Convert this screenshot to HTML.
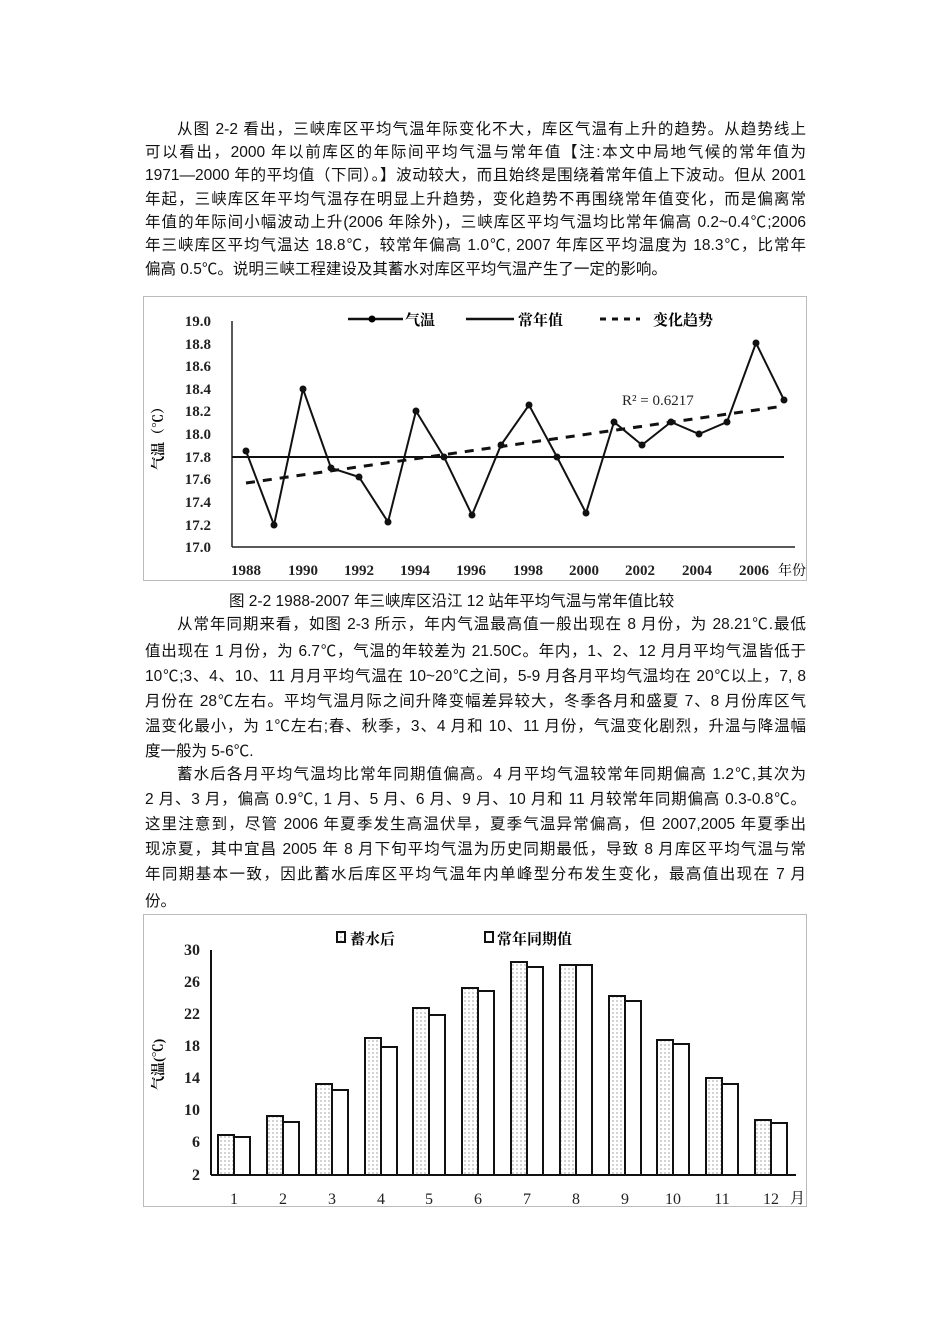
<!DOCTYPE html>
<html><head><meta charset="utf-8"><style>
body{margin:0;background:#fff;}
#pg{position:relative;width:950px;height:1344px;background:#fff;font-family:"Liberation Sans","Noto Sans CJK SC",sans-serif;color:#111;}
.l{position:absolute;left:145px;width:661px;font-size:15.5px;line-height:22px;height:22px;white-space:nowrap;text-align:justify;text-align-last:justify;}
.i{left:177px;width:629px;}
.e{text-align-last:left;}
svg{position:absolute;left:0;top:0;}
svg text{font-family:"Liberation Serif","Noto Serif CJK SC",serif;}
</style></head><body><div id="pg">
<div class="l i" style="top:119px">从图 2-2 看出，三峡库区平均气温年际变化不大，库区气温有上升的趋势。从趋势线上</div>
<div class="l" style="top:142px">可以看出，2000 年以前库区的年际间平均气温与常年值【注:本文中局地气候的常年值为</div>
<div class="l" style="top:165px">1971—2000 年的平均值（下同）。】波动较大，而且始终是围绕着常年值上下波动。但从 2001</div>
<div class="l" style="top:189px">年起，三峡库区年平均气温存在明显上升趋势，变化趋势不再围绕常年值变化，而是偏离常</div>
<div class="l" style="top:212px">年值的年际间小幅波动上升(2006 年除外)，三峡库区平均气温均比常年偏高 0.2~0.4℃;2006</div>
<div class="l" style="top:235px">年三峡库区平均气温达 18.8℃，较常年偏高 1.0℃, 2007 年库区平均温度为 18.3℃，比常年</div>
<div class="l e" style="top:259px">偏高 0.5℃。说明三峡工程建设及其蓄水对库区平均气温产生了一定的影响。</div>

<div class="l e" style="top:591px;left:229px">图 2-2 1988-2007 年三峡库区沿江 12 站年平均气温与常年值比较</div>
<div class="l i" style="top:614px">从常年同期来看，如图 2-3 所示，年内气温最高值一般出现在 8 月份，为 28.21℃.最低</div>
<div class="l" style="top:641px">值出现在 1 月份，为 6.7℃，气温的年较差为 21.50C。年内，1、2、12 月月平均气温皆低于</div>
<div class="l" style="top:666px">10℃;3、4、10、11 月月平均气温在 10~20℃之间，5-9 月各月平均气温均在 20℃以上，7, 8</div>
<div class="l" style="top:691px">月份在 28℃左右。平均气温月际之间升降变幅差异较大，冬季各月和盛夏 7、8 月份库区气</div>
<div class="l" style="top:716px">温变化最小，为 1℃左右;春、秋季，3、4 月和 10、11 月份，气温变化剧烈，升温与降温幅</div>
<div class="l e" style="top:741px">度一般为 5-6℃.</div>
<div class="l i" style="top:764px">蓄水后各月平均气温均比常年同期值偏高。4 月平均气温较常年同期偏高 1.2℃,其次为</div>
<div class="l" style="top:789px">2 月、3 月，偏高 0.9℃, 1 月、5 月、6 月、9 月、10 月和 11 月较常年同期偏高 0.3-0.8℃。</div>
<div class="l" style="top:814px">这里注意到，尽管 2006 年夏季发生高温伏旱，夏季气温异常偏高，但 2007,2005 年夏季出</div>
<div class="l" style="top:839px">现凉夏，其中宜昌 2005 年 8 月下旬平均气温为历史同期最低，导致 8 月库区平均气温与常</div>
<div class="l" style="top:864px">年同期基本一致，因此蓄水后库区平均气温年内单峰型分布发生变化，最高值出现在 7 月</div>
<div class="l e" style="top:891px">份。</div>

<svg width="950" height="1344" xmlns="http://www.w3.org/2000/svg">
<defs><pattern id="dots" width="4" height="4" patternUnits="userSpaceOnUse"><rect width="4" height="4" fill="#fff"/><circle cx="1" cy="1" r="0.6" fill="#666"/></pattern></defs>
<rect x="143.5" y="296.5" width="663" height="284" fill="none" stroke="#bbb"/>
<g font-size="15" font-weight="bold" fill="#222" text-anchor="end">
<text x="211" y="326">19.0</text><text x="211" y="349">18.8</text><text x="211" y="371">18.6</text><text x="211" y="394">18.4</text><text x="211" y="416">18.2</text><text x="211" y="439">18.0</text><text x="211" y="462">17.8</text><text x="211" y="484">17.6</text><text x="211" y="507">17.4</text><text x="211" y="530">17.2</text><text x="211" y="552">17.0</text>
</g>
<text x="0" y="0" font-size="14" font-weight="bold" transform="translate(163,470) rotate(-90)" font-family="Noto Sans CJK SC,sans-serif">气温（℃）</text>
<line x1="232" y1="321" x2="232" y2="547" stroke="#222" stroke-width="1.5"/>
<line x1="232" y1="547" x2="795" y2="547" stroke="#222" stroke-width="1.5"/>
<g font-size="15" font-weight="bold" fill="#222" text-anchor="middle">
<text x="246" y="575">1988</text><text x="303" y="575">1990</text><text x="359" y="575">1992</text><text x="415" y="575">1994</text><text x="471" y="575">1996</text><text x="528" y="575">1998</text><text x="584" y="575">2000</text><text x="640" y="575">2002</text><text x="697" y="575">2004</text><text x="754" y="575">2006</text>
</g>
<text x="778" y="575" font-size="14" font-family="Noto Sans CJK SC,sans-serif">年份</text>
<line x1="232" y1="457" x2="784" y2="457" stroke="#111" stroke-width="2"/>
<line x1="246" y1="483" x2="784" y2="406" stroke="#111" stroke-width="3" stroke-dasharray="9,8"/>
<polyline fill="none" stroke="#111" stroke-width="2" points="246,451 274,525 303,389 331,468 359,477 388,522 416,411 444,457 472,515 501,445 529,405 557,457 586,513 614,422 642,445 671,422 699,434 727,422 756,343 784,400"/>
<g fill="#111">
<circle cx="246" cy="451" r="3.5"/><circle cx="274" cy="525" r="3.5"/><circle cx="303" cy="389" r="3.5"/><circle cx="331" cy="468" r="3.5"/><circle cx="359" cy="477" r="3.5"/><circle cx="388" cy="522" r="3.5"/><circle cx="416" cy="411" r="3.5"/><circle cx="444" cy="457" r="3.5"/><circle cx="472" cy="515" r="3.5"/><circle cx="501" cy="445" r="3.5"/><circle cx="529" cy="405" r="3.5"/><circle cx="557" cy="457" r="3.5"/><circle cx="586" cy="513" r="3.5"/><circle cx="614" cy="422" r="3.5"/><circle cx="642" cy="445" r="3.5"/><circle cx="671" cy="422" r="3.5"/><circle cx="699" cy="434" r="3.5"/><circle cx="727" cy="422" r="3.5"/><circle cx="756" cy="343" r="3.5"/><circle cx="784" cy="400" r="3.5"/>
</g>
<text x="622" y="405" font-size="15" fill="#222">R² = 0.6217</text>
<line x1="348" y1="319" x2="403" y2="319" stroke="#111" stroke-width="2.5"/><circle cx="372" cy="319" r="3.5"/>
<text x="405" y="325" font-size="15" font-weight="bold" font-family="Noto Sans CJK SC,sans-serif">气温</text>
<line x1="466" y1="319" x2="514" y2="319" stroke="#111" stroke-width="2.5"/>
<text x="518" y="325" font-size="15" font-weight="bold" font-family="Noto Sans CJK SC,sans-serif">常年值</text>
<line x1="600" y1="319" x2="640" y2="319" stroke="#111" stroke-width="3" stroke-dasharray="6,6"/>
<text x="653" y="325" font-size="15" font-weight="bold" font-family="Noto Sans CJK SC,sans-serif">变化趋势</text>

<rect x="143.5" y="914.5" width="663" height="292" fill="none" stroke="#bbb"/>
<g font-size="16" font-weight="bold" fill="#222" text-anchor="end">
<text x="200" y="955">30</text><text x="200" y="987">26</text><text x="200" y="1019">22</text><text x="200" y="1051">18</text><text x="200" y="1083">14</text><text x="200" y="1115">10</text><text x="200" y="1147">6</text><text x="200" y="1180">2</text>
</g>
<text x="0" y="0" font-size="14" font-weight="bold" transform="translate(163,1090) rotate(-90)" font-family="Noto Sans CJK SC,sans-serif">气温(℃)</text>
<line x1="211" y1="950" x2="211" y2="1175" stroke="#111" stroke-width="2"/>
<line x1="211" y1="1175" x2="796" y2="1175" stroke="#111" stroke-width="2"/>
<g stroke="#111" stroke-width="2">
<rect x="218" y="1135" width="16" height="40" fill="url(#dots)"/><rect x="234" y="1137" width="16" height="38" fill="#fff"/>
<rect x="267" y="1116" width="16" height="59" fill="url(#dots)"/><rect x="283" y="1122" width="16" height="53" fill="#fff"/>
<rect x="316" y="1084" width="16" height="91" fill="url(#dots)"/><rect x="332" y="1090" width="16" height="85" fill="#fff"/>
<rect x="365" y="1038" width="16" height="137" fill="url(#dots)"/><rect x="381" y="1047" width="16" height="128" fill="#fff"/>
<rect x="413" y="1008" width="16" height="167" fill="url(#dots)"/><rect x="429" y="1015" width="16" height="160" fill="#fff"/>
<rect x="462" y="988" width="16" height="187" fill="url(#dots)"/><rect x="478" y="991" width="16" height="184" fill="#fff"/>
<rect x="511" y="962" width="16" height="213" fill="url(#dots)"/><rect x="527" y="967" width="16" height="208" fill="#fff"/>
<rect x="560" y="965" width="16" height="210" fill="url(#dots)"/><rect x="576" y="965" width="16" height="210" fill="#fff"/>
<rect x="609" y="996" width="16" height="179" fill="url(#dots)"/><rect x="625" y="1001" width="16" height="174" fill="#fff"/>
<rect x="657" y="1040" width="16" height="135" fill="url(#dots)"/><rect x="673" y="1044" width="16" height="131" fill="#fff"/>
<rect x="706" y="1078" width="16" height="97" fill="url(#dots)"/><rect x="722" y="1084" width="16" height="91" fill="#fff"/>
<rect x="755" y="1120" width="16" height="55" fill="url(#dots)"/><rect x="771" y="1123" width="16" height="52" fill="#fff"/>
</g>
<g font-size="16" fill="#222" text-anchor="middle">
<text x="234" y="1204">1</text><text x="283" y="1204">2</text><text x="332" y="1204">3</text><text x="381" y="1204">4</text><text x="429" y="1204">5</text><text x="478" y="1204">6</text><text x="527" y="1204">7</text><text x="576" y="1204">8</text><text x="625" y="1204">9</text><text x="673" y="1204">10</text><text x="722" y="1204">11</text><text x="771" y="1204">12</text>
</g>
<text x="790" y="1203" font-size="15" font-family="Noto Sans CJK SC,sans-serif">月</text>
<rect x="337" y="932" width="8" height="10" fill="url(#dots)" stroke="#111" stroke-width="2"/>
<text x="350" y="944" font-size="15" font-weight="bold" font-family="Noto Sans CJK SC,sans-serif">蓄水后</text>
<rect x="485" y="932" width="8" height="10" fill="#fff" stroke="#111" stroke-width="2"/>
<text x="497" y="944" font-size="15" font-weight="bold" font-family="Noto Sans CJK SC,sans-serif">常年同期值</text>
</svg>
</div></body></html>
